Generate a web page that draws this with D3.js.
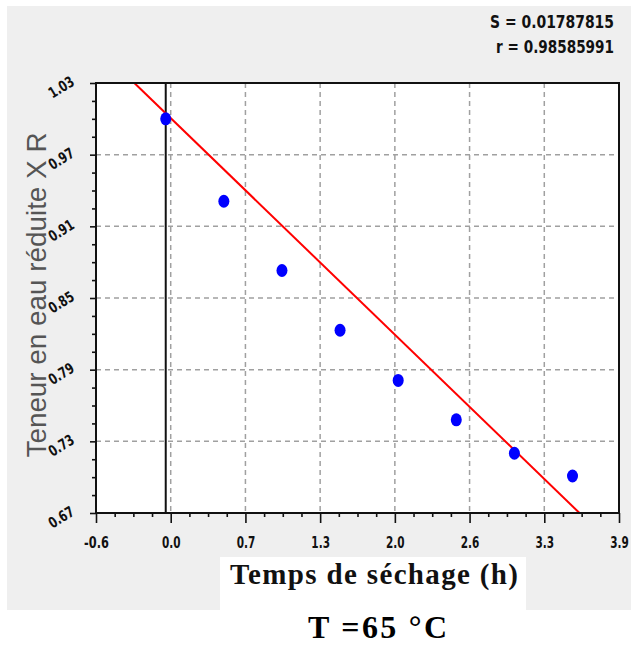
<!DOCTYPE html>
<html>

<head>
  <meta charset="utf-8">
  <script src="https://d3js.org/d3.v7.min.js"></script>
  <style type="text/css">
    body {
      margin: 0;
      background: #ffffff;
    }

    svg {
      display: block;
    }
  </style>
</head>

<body>
  <svg id="chart"></svg>
</body>

<script>
  // data
  const timeH = [0.0, 0.5, 1.0, 1.5, 2.0, 2.5, 3.0, 3.5];
  const xr = [1.000, 0.931, 0.873, 0.823, 0.781, 0.748, 0.720, 0.701];

  // fitted line (ends where it leaves the plot box)
  const fitX = [-0.27, 3.56];
  const fitY = [1.03, 0.67];

  const xDomain = [-0.6, 3.9];
  const yDomain = [0.67, 1.03];
  const xTickLabels = ["-0.6", "0.0", "0.7", "1.3", "2.0", "2.6", "3.3", "3.9"];
  const yTickLabels = ["0.67", "0.73", "0.79", "0.85", "0.91", "0.97", "1.03"];

  const statLines = ["S = 0.01787815", "r = 0.98585991"];
  const xTitle = "Temps de séchage (h)";
  const yTitle = "Teneur en eau réduite X R";
  const caption = "T =65 °C";

  const W = 631, H = 651;
  const box = { left: 96, right: 619, top: 83, bottom: 513 };
  const narrow = "'Liberation Sans Narrow', 'DejaVu Sans Condensed', 'DejaVu Sans', sans-serif";
  const serif = "'Liberation Serif', 'DejaVu Serif', serif";

  // squeeze a text horizontally so it is `target` px wide (the original uses a narrow bitmap font)
  function squeezeX(node, target, before) {
    const len = node.getComputedTextLength();
    const sx = len > 0 ? target / len : 1;
    d3.select(node).attr("transform", `${before || ""} scale(${sx}, 1)`);
  }

  const svg = d3.select("#chart")
    .attr("width", W)
    .attr("height", H)
    .style("background", "#ffffff");

  // gray panel behind the plot
  svg.append("rect")
    .attr("x", 7).attr("y", 6)
    .attr("width", W - 7).attr("height", 604)
    .attr("fill", "#efefef");

  const xScale = d3.scaleLinear().domain(xDomain).range([box.left, box.right]);
  const yScale = d3.scaleLinear().domain(yDomain).range([box.bottom, box.top]);

  // evenly spaced ticks, labels rounded like the original software does
  const xStep = (xDomain[1] - xDomain[0]) / (xTickLabels.length - 1);
  const yStep = (yDomain[1] - yDomain[0]) / (yTickLabels.length - 1);
  const xMajor = xTickLabels.map((_, i) => xDomain[0] + i * xStep);
  const yMajor = yTickLabels.map((_, i) => yDomain[0] + i * yStep);
  const xMinor = [], yMinor = [];
  xMajor.slice(0, -1).forEach(v => { for (let k = 1; k < 4; k++) xMinor.push(v + k * xStep / 4) });
  yMajor.slice(0, -1).forEach(v => { for (let k = 1; k < 4; k++) yMinor.push(v + k * yStep / 4) });

  // white plot area
  svg.append("rect")
    .attr("x", box.left).attr("y", box.top)
    .attr("width", box.right - box.left).attr("height", box.bottom - box.top)
    .attr("fill", "#ffffff");

  // dashed grid
  const grid = svg.append("g")
    .attr("stroke", "#a0a0a0")
    .attr("stroke-width", 1.5)
    .attr("stroke-dasharray", "5,4");

  grid.selectAll("line.gx")
    .data(xMajor.slice(1, -1))
    .enter()
    .append("line")
    .attr("x1", d => xScale(d)).attr("x2", d => xScale(d))
    .attr("y1", box.top).attr("y2", box.bottom);

  grid.selectAll("line.gy")
    .data(yMajor.slice(1, -1))
    .enter()
    .append("line")
    .attr("x1", box.left).attr("x2", box.right)
    .attr("y1", d => yScale(d)).attr("y2", d => yScale(d));

  // vertical line at t = 0
  svg.append("line")
    .attr("x1", xScale(0)).attr("x2", xScale(0))
    .attr("y1", box.top).attr("y2", box.bottom)
    .attr("stroke", "#111")
    .attr("stroke-width", 2);

  // regression line
  svg.append("line")
    .attr("x1", xScale(fitX[0])).attr("y1", yScale(fitY[0]))
    .attr("x2", xScale(fitX[1])).attr("y2", yScale(fitY[1]))
    .attr("stroke", "#ff0000")
    .attr("stroke-width", 2);

  // points
  svg.append("g")
    .selectAll("ellipse")
    .data(timeH)
    .enter()
    .append("ellipse")
    .attr("cx", (d) => xScale(d))
    .attr("cy", (d, i) => yScale(xr[i]))
    .attr("rx", 5.5)
    .attr("ry", 6.5)
    .attr("fill", "#0000ff");

  // axes: major + minor ticks
  const xAxis = svg.append("g")
    .attr("transform", `translate(0, ${box.bottom})`)
    .call(d3.axisBottom(xScale).tickValues(xMajor).tickSize(10)
      .tickFormat((d, i) => xTickLabels[i]));
  svg.append("g")
    .attr("transform", `translate(0, ${box.bottom})`)
    .call(d3.axisBottom(xScale).tickValues(xMinor).tickSize(4).tickFormat(""));

  const yAxis = svg.append("g")
    .attr("transform", `translate(${box.left}, 0)`)
    .call(d3.axisLeft(yScale).tickValues(yMajor).tickSize(6)
      .tickFormat((d, i) => yTickLabels[i]));
  svg.append("g")
    .attr("transform", `translate(${box.left}, 0)`)
    .call(d3.axisLeft(yScale).tickValues(yMinor).tickSize(4).tickFormat(""));

  svg.selectAll(".domain").remove();
  svg.selectAll(".tick line").attr("stroke", "#111").attr("stroke-width", 1.6);

  xAxis.selectAll("text")
    .attr("y", 35)
    .attr("dy", null)
    .attr("fill", "#111")
    .style("font-family", narrow)
    .style("font-weight", "bold")
    .style("font-size", "16px")
    .each(function () { squeezeX(this, this.textContent.length * 6.2) });

  // y labels are slanted in the original
  yAxis.selectAll("text")
    .attr("x", null).attr("dy", null)
    .attr("text-anchor", "middle")
    .attr("fill", "#111")
    .style("font-family", narrow)
    .style("font-weight", "bold")
    .style("font-size", "15px")
    .each(function () { squeezeX(this, 27, "translate(-32, 8) rotate(-32)") });

  // plot frame
  svg.append("rect")
    .attr("x", box.left).attr("y", box.top)
    .attr("width", box.right - box.left).attr("height", box.bottom - box.top)
    .attr("fill", "none")
    .attr("stroke", "#111")
    .attr("stroke-width", 2);

  // statistics, top right
  svg.append("g")
    .selectAll("text")
    .data(statLines)
    .enter()
    .append("text")
    .attr("text-anchor", "end")
    .attr("fill", "#111")
    .style("font-family", narrow)
    .style("font-weight", "bold")
    .style("font-size", "18px")
    .text(d => d)
    .each(function (d, i) { squeezeX(this, i == 0 ? 124 : 118, `translate(614, ${28 + i * 25})`) });

  // y title
  svg.append("text")
    .attr("transform", "translate(46, 295) rotate(-90)")
    .attr("text-anchor", "middle")
    .attr("fill", "#555")
    .style("font-family", "'Liberation Sans', Arial, sans-serif")
    .style("font-size", "27px")
    .attr("textLength", 325)
    .attr("lengthAdjust", "spacingAndGlyphs")
    .text(yTitle);

  // x title in its white box
  svg.append("rect")
    .attr("x", 220).attr("y", 557)
    .attr("width", 306).attr("height", 53)
    .attr("fill", "#ffffff");

  svg.append("text")
    .attr("x", 230)
    .attr("y", 584)
    .attr("fill", "#111")
    .style("font-family", serif)
    .style("font-weight", "bold")
    .style("font-size", "29px")
    .attr("textLength", 288)
    .attr("lengthAdjust", "spacing")
    .text(xTitle);

  svg.append("text")
    .attr("x", 308)
    .attr("y", 638)
    .attr("fill", "#000")
    .style("font-family", serif)
    .style("font-weight", "bold")
    .style("font-size", "32px")
    .attr("textLength", 139)
    .attr("lengthAdjust", "spacing")
    .text(caption);
</script>

</html>
